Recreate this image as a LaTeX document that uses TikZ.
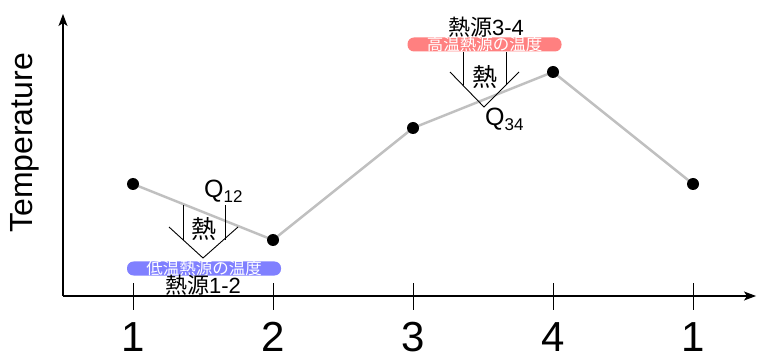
\documentclass[tikz,border=0pt]{standalone}
\usepackage{fontspec}
\setmainfont{Liberation Sans}
\newfontfamily\cjk{Noto Sans CJK JP}
\usetikzlibrary{arrows.meta}
\definecolor{lowbar}{RGB}{128,128,255}
\definecolor{highbar}{RGB}{255,128,128}
\definecolor{curvegray}{RGB}{192,192,192}
\begin{document}
\begin{tikzpicture}[x=1pt,y=-1pt,
  axis/.style={line width=1.1pt,-{Stealth[length=12pt,width=9pt,inset=3pt]}},
  tickline/.style={line width=0.9pt},
  curve/.style={line width=2.5pt,draw=curvegray},
  dot/.style={circle,fill=black,inner sep=0pt,minimum size=12pt},
  heat/.style={line width=0.9pt},
  bar/.style={rounded corners=6.5pt,inner sep=0pt,minimum width=154pt,minimum height=14pt},
  bartext/.style={text=white,inner sep=0pt,font=\cjk\fontsize{16.5}{16.5}\selectfont},
  ticklabel/.style={anchor=base,inner sep=0pt,font=\fontsize{42}{42}\selectfont},
  heatlabel/.style={inner sep=0pt,font=\cjk\fontsize{25}{25}\selectfont},
  srclabel/.style={inner sep=0pt,font=\fontsize{22}{22}\selectfont},
  qlabel/.style={anchor=base west,inner sep=0pt,font=\fontsize{25}{25}\selectfont}
]
\useasboundingbox (0,0) rectangle (759,352);
% axes
\coordinate (o) at (63,296);
\coordinate (ytip) at (63,14);
\coordinate (xtip) at (756,296);
\draw[axis] (o) -- (ytip);
\draw[axis] (o) -- (xtip);
\node[rotate=90,inner sep=0pt,font=\fontsize{32}{32}\selectfont] (ylab) at (25,143) {Temperature};
% ticks
\foreach \x/\l [count=\i] in {133/1,273/2,413/3,553/4,693/1}{
  \coordinate (tt\i) at (\x,283);
  \coordinate (tb\i) at (\x,310);
  \draw[tickline] (tt\i) -- (tb\i);
  \node[ticklabel] (tl\i) at (\x,351) {\l};
}
% curve
\coordinate (c1) at (133,184);
\coordinate (c2) at (273,240);
\coordinate (c3) at (413,128);
\coordinate (c4) at (553,72);
\coordinate (c5) at (693,184);
\draw[curve] (c1) -- (c2) -- (c3) -- (c4) -- (c5);
\foreach \i in {1,...,5}{ \node[dot] (d\i) at (c\i) {}; }
% heat arrow 1-2
\draw[heat] (183,205) -- (183,240);
\draw[heat] (225,205) -- (225,240);
\draw[heat] (169,227) -- (203,258) -- (238,227);
\node[heatlabel] (h12) at (204,229) {熱};
\node[qlabel] (q12) at (204,197.5) {Q\raisebox{-5pt}{\fontsize{17}{17}\selectfont 12}};
\node[bar,fill=lowbar] (lowb) at (204,268.5) {};
\node[bartext] (lowt) at (204,268.5) {低温熱源の温度};
\node[srclabel] (s12) at (203,285) {{\cjk 熱源}1-2};
% heat arrow 3-4
\draw[heat] (463,52) -- (463,85.5);
\draw[heat] (506,52) -- (506,85.5);
\draw[heat] (450,72) -- (484,107) -- (519,72);
\node[heatlabel] (h34) at (485,77) {熱};
\node[qlabel] (q34) at (485,125.5) {Q\raisebox{-5pt}{\fontsize{17}{17}\selectfont 34}};
\node[bar,fill=highbar] (highb) at (484.5,44.5) {};
\node[bartext] (hight) at (484.5,44.5) {高温熱源の温度};
\node[srclabel] (s34) at (486,27) {{\cjk 熱源}3-4};
\end{tikzpicture}
\end{document}
